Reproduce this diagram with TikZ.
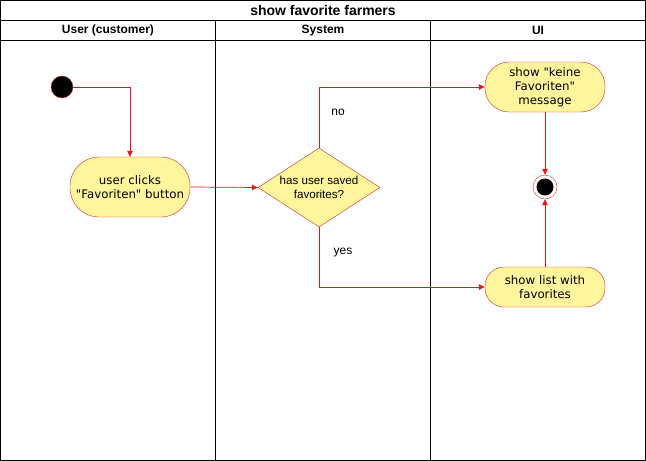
\documentclass[tikz,border=0pt]{standalone}
\usepackage{fontspec}
\setmainfont{Liberation Sans}
\newfontfamily\actfont{DejaVu Sans}
\usetikzlibrary{shapes.geometric,arrows.meta}
\definecolor{actfill}{HTML}{FFF59D}
\definecolor{actline}{HTML}{D42A2A}
\definecolor{flowline}{HTML}{E8141A}
\begin{document}
\begin{tikzpicture}[x=1pt,y=-1pt,
  lane/.style={draw=black,line width=0.8pt},
  action/.style={draw=actline,fill=actfill,minimum width=120pt,align=center,font=\actfont\fontsize{11.8}{14}\selectfont,inner sep=0pt},
  decision/.style={diamond,draw=actline,fill=actfill,align=center,font=\fontsize{11.6}{14}\selectfont,inner sep=0pt,minimum width=122pt,minimum height=79pt,aspect=1.55},
  flow/.style={draw=flowline,line width=0.7pt,-{Triangle[length=6pt,width=5.5pt]}},
  guard/.style={font=\fontsize{12}{14}\selectfont},
  lanehead/.style={font=\bfseries\fontsize{12}{14}\selectfont}]
\useasboundingbox (0,0) rectangle (646,461);
% swimlane frame
\draw[lane] (0.5,0.5) rectangle (645.5,460.5);
\draw[lane] (0.5,20) -- (645.5,20);
\draw[lane] (0.5,40) -- (645.5,40);
\draw[lane] (215,20) -- (215,460.5);
\draw[lane] (430,20) -- (430,460.5);
\node[font=\bfseries\fontsize{14}{15}\selectfont] (title) at (323,10.5) {show favorite farmers};
\node[lanehead] (laneA) at (108,30.5) {User (customer)};
\node[lanehead] (laneB) at (323,30.5) {System};
\node[lanehead] (laneC) at (538,30.5) {UI};
% activity nodes
\node[circle,draw=actline,fill=black,minimum size=22pt,inner sep=0pt] (start) at (62,87) {};
\node[action,minimum height=60pt,rounded corners=29pt] (click) at (130,187) {user clicks\\"Favoriten" button};
\node[decision] (dec) at (319,187.5) {has user saved\\favorites?};
\node[action,minimum height=50pt,rounded corners=24pt] (none) at (545,87) {show "keine\\Favoriten"\\message};
\node[action,minimum height=40pt,rounded corners=19pt] (list) at (545,287) {show list with\\favorites};
\node[circle,draw=actline,fill=white,minimum size=24pt,inner sep=0pt] (end) at (545,187) {};
\node[circle,fill=black,minimum size=17pt,inner sep=0pt] (endin) at (545,187) {};
% flows
\draw[flow] (start.east) -| (click.north);
\draw[flow] (click.east) -- (dec.west);
\draw[flow] (dec.north) |- (none.west);
\draw[flow] (dec.south) |- (list.west);
\draw[flow] (none.south) -- (end.north);
\draw[flow] (list.north) -- (end.south);
\node[guard] (gno) at (338,112) {no};
\node[guard] (gyes) at (343,253) {yes};
\end{tikzpicture}
\end{document}
